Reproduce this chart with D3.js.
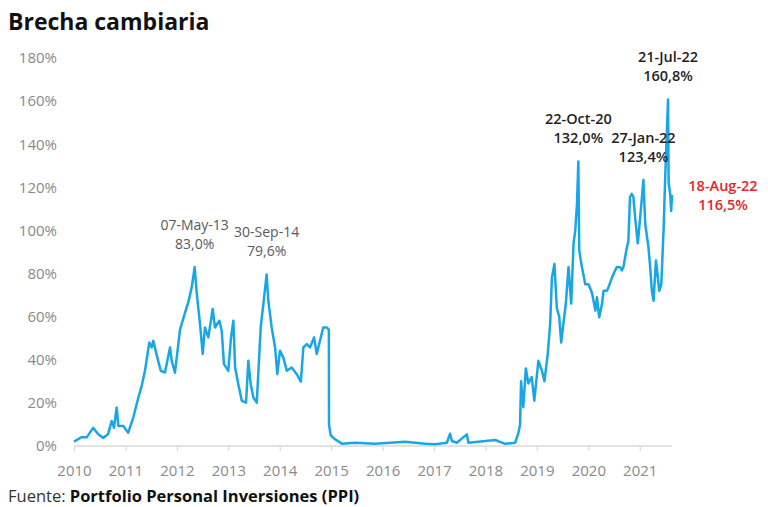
<!DOCTYPE html>
<html>
<head>
<meta charset="utf-8">
<script src="https://cdn.jsdelivr.net/npm/d3@7"></script>
<style>
  html, body { margin: 0; padding: 0; background: #fff; }
  svg { display: block; font-family: "Open Sans", "Noto Sans", sans-serif; }
</style>
</head>
<body>
<svg id="chart" width="768" height="507"></svg>
<script>
// ---- data ----
const dates = [
"2011-01-01","2011-02-25","2011-04-01","2011-05-17","2011-06-21","2011-07-27","2011-09-01","2011-09-25","2011-10-12","2011-10-31",
"2011-11-12","2011-12-17","2012-01-21","2012-02-26","2012-04-02","2012-04-26","2012-05-19","2012-06-19","2012-07-06","2012-07-17",
"2012-08-15","2012-09-08","2012-10-08","2012-11-13","2012-11-25","2012-12-18","2013-01-23","2013-02-28","2013-03-23","2013-04-16",
"2013-05-07","2013-05-22","2013-06-14","2013-07-03","2013-07-19","2013-08-12","2013-09-12","2013-09-28","2013-10-29","2013-11-15",
"2013-12-01","2014-01-01","2014-01-20","2014-02-06","2014-02-18","2014-03-13","2014-04-07","2014-05-07","2014-05-23","2014-06-09",
"2014-06-28","2014-07-22","2014-08-19","2014-09-07","2014-09-30","2014-10-12","2014-11-05","2014-11-29","2014-12-15","2015-01-03",
"2015-01-27","2015-02-20","2015-03-27","2015-05-02","2015-05-31","2015-06-18","2015-07-12","2015-08-04","2015-09-02","2015-09-21",
"2015-10-14","2015-11-06","2015-11-30","2015-12-16","2015-12-17","2015-12-29","2016-01-29","2016-03-17","2016-06-19","2016-11-08",
"2017-06-10","2017-10-30","2018-01-09","2018-04-02","2018-04-25","2018-05-08","2018-06-12","2018-08-22","2018-09-02","2018-11-12",
"2019-02-04","2019-03-11","2019-05-21","2019-07-31","2019-08-23","2019-09-04","2019-09-11","2019-09-27","2019-10-15","2019-11-02",
"2019-11-26","2019-12-14","2020-01-12","2020-02-06","2020-02-24","2020-03-19","2020-04-05","2020-04-17","2020-05-05","2020-05-22",
"2020-06-08","2020-06-22","2020-07-08","2020-07-25","2020-08-13","2020-09-01","2020-09-18","2020-09-30","2020-10-12","2020-10-22",
"2020-10-28","2020-11-12","2020-12-10","2021-01-03","2021-01-27","2021-02-20","2021-03-03","2021-03-19","2021-04-08","2021-04-19",
"2021-05-13","2021-05-24","2021-06-17","2021-07-10","2021-07-22","2021-08-15","2021-08-27","2021-09-07","2021-10-01","2021-10-12",
"2021-10-24","2021-11-05","2021-11-17","2021-11-29","2021-12-18","2022-01-04","2022-01-27","2022-02-09","2022-03-04","2022-03-16",
"2022-03-28","2022-04-09","2022-04-26","2022-05-10","2022-05-19","2022-06-03","2022-06-19","2022-07-01","2022-07-21","2022-07-25",
"2022-08-05","2022-08-12","2022-08-18"
];
const gapValues = [
2,4.2,4,8.4,5.6,3.7,5.6,11.6,8.5,17.8,
9.3,9.3,6.2,13.2,22.5,27.9,34.9,48,45.7,48.8,
41,34.9,34.1,45.7,39.5,34,54,62,66.7,73.6,
83.0,70.6,56.6,42.7,55,50.4,63.6,55,58.1,53.5,
38,34.9,50.4,58.1,36.4,28.7,20.9,20.1,39.5,28.7,
22.5,20.1,55,65.9,79.6,67.4,55,45.7,33.3,44.2,
41,34.9,36.4,33.3,29.9,45.7,47.3,45.7,50.4,42.7,
48.8,55,55,54,10,5,3.1,1.1,1.5,1,
2,1,0.8,1.5,5.7,2.3,1.5,5.4,1.5,2,
2.6,2.8,1,1.5,6,10,30,18,36,29,
32,21,39.5,35,30,43,57,78,84.5,64,
60,48,57,66,83,66,94,100,112,132.0,
91,84.5,75,75,71,62.8,69,59.7,66,72,
72,73.6,78,81.4,83,82.9,81.4,83,92,95,
115.5,117,115.5,106,94,106,123.4,103,92,83,
72,67.4,86,78,72,75,100,125,160.8,122,
117,109,116.5
];
// x ticks as labelled in the reference (labels sit one year before the data's calendar year)
const xTickDates = ["2011-01-01","2012-01-01","2013-01-01","2014-01-01","2015-01-01","2016-01-01","2017-01-01","2018-01-01","2019-01-01","2020-01-01","2021-01-01","2022-01-01"];
const xTickLabels = ["2010","2011","2012","2013","2014","2015","2016","2017","2018","2019","2020","2021"];
const yTicks = [0,20,40,60,80,100,120,140,160,180];
// annotations
const annDates = ["2013-05-07","2014-09-30","2020-10-22","2022-01-27","2022-07-21","2022-08-18"];
const annValues = [83.0,79.6,132.0,123.4,160.8,116.5];

const title = "Brecha cambiaria";
const sourceLabel = "Fuente: ";
const sourceName = "Portfolio Personal Inversiones (PPI)";

// ---- drawing ----
const parse = d3.timeParse("%Y-%m-%d");
const data = dates.map((d, i) => ({date: parse(d), value: gapValues[i]}));

const svg = d3.select("#chart");
const x = d3.scaleTime()
  .domain([parse("2011-01-01"), parse("2022-08-18")])
  .range([74, 672]);
const y = d3.scaleLinear().domain([0, 180]).range([446, 58]);

// title
svg.append("text").attr("x", 8).attr("y", 30)
  .attr("font-size", 23).attr("font-weight", 700).attr("fill", "#111")
  .text(title);

// y axis (labels only)
const yAxis = d3.axisLeft(y).tickValues(yTicks).tickSize(0).tickPadding(0)
  .tickFormat(d => d + "%");
const gy = svg.append("g").attr("transform", "translate(57,0)").call(yAxis);
gy.select(".domain").remove();
gy.selectAll("text").attr("font-size", 15).attr("fill", "#8a8a8a")
  .attr("font-family", "'Open Sans', sans-serif");

// x axis
const fmtTick = new Map(xTickDates.map((d, i) => [+parse(d), xTickLabels[i]]));
const xAxis = d3.axisBottom(x).tickValues(xTickDates.map(parse))
  .tickSize(5).tickPadding(14).tickFormat(d => fmtTick.get(+d));
const gx = svg.append("g").attr("transform", "translate(0,446)").call(xAxis);
gx.select(".domain").attr("stroke", "#d9d9d9").attr("stroke-width", 1.5)
  .attr("d", "M74,0H672");
gx.selectAll(".tick line").attr("stroke", "#d9d9d9").attr("stroke-width", 1.2);
gx.selectAll("text").attr("font-size", 15).attr("fill", "#8a8a8a")
  .attr("font-family", "'Open Sans', sans-serif");

// line
const line = d3.line().x(d => x(d.date)).y(d => y(d.value));
svg.append("path").datum(data)
  .attr("fill", "none").attr("stroke", "#19a6e6").attr("stroke-width", 2.5)
  .attr("stroke-linejoin", "round")
  .attr("d", line);

// annotations
const fmtDate = d3.timeFormat("%d-%b-%y");
const fmtVal = v => d3.format(".1f")(v).replace(".", ",") + "%";
const last = annDates.length - 1;
annDates.forEach((ds, i) => {
  const d = parse(ds), v = annValues[i];
  const early = d.getFullYear() < 2016;
  const isLast = i === last;
  const color = isLast ? "#e8232a" : (early ? "#5a5a5a" : "#1f1f1f");
  const weight = early ? 400 : 600;
  let cx, cy;
  if (isLast) { cx = x(d) + 51; cy = y(v) - 9; }
  else { cx = x(d); cy = y(v) - 42; }
  const g = svg.append("g").attr("fill", color).attr("font-size", early ? 14 : 14.5)
    .attr("font-weight", weight).attr("text-anchor", "middle");
  g.append("text").attr("x", cx).attr("y", cy + 5).text(fmtDate(d));
  g.append("text").attr("x", cx).attr("y", cy + 24).text(fmtVal(v));
});

// source
const src = svg.append("text").attr("x", 8).attr("y", 502).attr("font-size", 16.5);
src.append("tspan").attr("fill", "#333").attr("font-weight", 400).text(sourceLabel);
src.append("tspan").attr("fill", "#111").attr("font-weight", 700).text(sourceName);
</script>
</body>
</html>
